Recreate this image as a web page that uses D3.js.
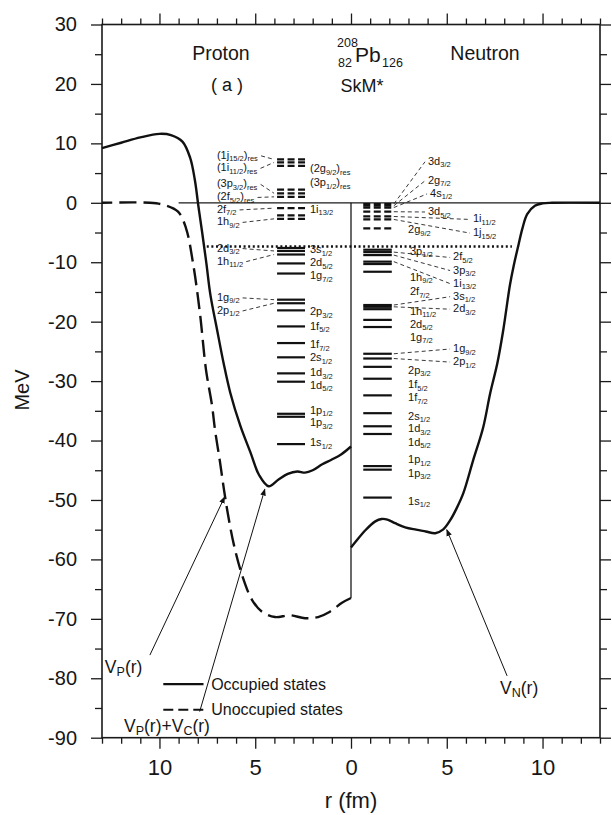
<!DOCTYPE html>
<html>
<head>
<meta charset="utf-8">
<script src="https://cdn.jsdelivr.net/npm/d3@7"></script>
<style>
  body { margin: 0; background: #fff; }
  svg text { font-family: "Liberation Sans", Arial, Helvetica, sans-serif; fill: #161616; }
</style>
</head>
<body>
<svg id="chart" width="612" height="815"></svg>
<script>
// ---- data ----
// mean fields: [r (fm, from the centre), V (MeV)]
var protonVC = [[0,-41.0],[0.5,-42.3],[1.0,-43.2],[1.5,-44.0],[2.0,-45.0],[2.4,-45.4],[2.8,-45.2],[3.3,-45.6],
  [3.8,-46.6],[4.3,-47.7],[4.8,-45.8],[5.25,-42.0],[5.78,-37.5],[6.3,-32.0],[6.65,-27.0],[6.99,-21.4],
  [7.34,-15.5],[7.55,-10.2],[7.77,-5.0],[7.97,-0.5],[8.15,3.8],[8.4,7.6],[8.8,10.3],[9.4,11.4],
  [10.0,11.6],[11.0,11.0],[12.0,10.1],[13.0,9.2]];
var protonV = [[0,-66.5],[0.47,-67.3],[1.1,-68.8],[1.72,-69.7],[2.4,-69.9],[3.19,-69.4],[3.97,-69.7],
  [4.65,-68.8],[5.17,-66.8],[5.69,-62.6],[6.11,-57.6],[6.42,-52.5],[6.63,-48.3],[6.84,-43.6],[7.1,-38.2],
  [7.26,-34.0],[7.57,-28.1],[7.89,-18.5],[8.25,-10.1],[8.62,-4.2],[9.03,-1.5],[9.71,-0.4],[10.5,0],[13.0,0]];
var neutronV = [[0,-58.0],[0.25,-57.0],[0.75,-55.1],[1.27,-53.6],[1.6,-53.2],[1.9,-53.3],[2.3,-53.9],
  [2.83,-54.6],[3.4,-55.0],[3.9,-55.3],[4.4,-55.6],[4.8,-55.0],[5.18,-53.4],[5.5,-51.5],[5.86,-48.9],
  [6.38,-43.3],[6.9,-37.8],[7.27,-32.0],[7.64,-27.0],[7.95,-21.4],[8.3,-13.8],[8.5,-10.5],[8.75,-7.0],
  [8.95,-4.3],[9.2,-1.9],[9.6,-0.5],[10.0,-0.1],[10.5,0],[13.0,0]];

// single particle levels: [state, E (MeV)]
var protonOccupied = [["1s1/2",-40.6],["1p3/2",-36.0],["1p1/2",-35.5],["1d5/2",-30.1],["1d3/2",-28.7],
  ["2s1/2",-26.0],["1f7/2",-23.6],["1f5/2",-20.8],["2p3/2",-18.1],["2p1/2",-16.9],["1g9/2",-16.3],
  ["1g7/2",-11.9],["2d5/2",-10.2],["1h11/2",-8.7],["2d3/2",-8.1],["3s1/2",-7.6]];
var protonUnoccupied = [["1h9/2",-2.7],["1i13/2",-2.1],["2f7/2",-0.9],["2f5/2",1.0],["3p3/2",1.6],
  ["3p1/2",2.2],["2g9/2",6.2],["1i11/2",6.8],["1j15/2",7.3]];
var neutronOccupied = [["1s1/2",-49.6],["1p3/2",-44.9],["1p1/2",-44.3],["1d5/2",-38.9],["1d3/2",-37.6],
  ["2s1/2",-35.4],["1f7/2",-32.4],["1f5/2",-29.6],["2p3/2",-27.6],["2p1/2",-26.2],["1g9/2",-25.4],
  ["1g7/2",-20.9],["2d5/2",-19.7],["1h11/2",-17.9],["2d3/2",-17.5],["3s1/2",-17.2],["1h9/2",-11.6],
  ["2f7/2",-10.3],["1i13/2",-9.9],["3p3/2",-8.8],["2f5/2",-8.3],["3p1/2",-7.9]];
var neutronUnoccupied = [["2g9/2",-4.3],["1j15/2",-2.8],["1i11/2",-2.3],["3d5/2",-1.5],["4s1/2",-0.8],
  ["2g7/2",-0.5],["3d3/2",-0.2]];
var fermiE = -7.35;

// axis ticks
var rTicks = d3.range(-13, 14);
var rMajor = [-10, -5, 0, 5, 10];
var eTicks = d3.range(-90, 31, 5);
var eMajor = d3.range(-90, 31, 10);

// ---- layout ----
// label anchors in plot units [signed r, E, leader line]
var protonLabelAt = {
  "1j15/2":[-7.0,7.9,1], "1i11/2":[-7.0,5.8,1], "3p3/2":[-7.0,3.1,1], "2f5/2":[-7.0,0.9,1],
  "2f7/2":[-7.0,-1.2,1], "1h9/2":[-7.0,-3.3,1], "2d3/2":[-7.0,-7.7,1], "1h11/2":[-7.0,-9.9,1],
  "1g9/2":[-7.0,-16.0,1], "2p1/2":[-7.0,-18.2,1],
  "2g9/2":[-2.14,5.64,0], "3p1/2":[-2.14,3.33,0], "1i13/2":[-2.14,-1.21,0], "3s1/2":[-2.14,-8.0,0],
  "2d5/2":[-2.14,-10.2,0], "1g7/2":[-2.14,-12.4,0], "2p3/2":[-2.14,-18.43,0], "1f5/2":[-2.14,-20.85,0],
  "1f7/2":[-2.14,-23.93,0], "2s1/2":[-2.14,-26.17,0], "1d3/2":[-2.14,-28.69,0], "1d5/2":[-2.14,-30.8,0],
  "1p1/2":[-2.14,-35.0,0], "1p3/2":[-2.14,-37.1,0], "1s1/2":[-2.14,-40.47,0]
};
var neutronLabelAt = {
  "3d3/2":[4.02,6.9,1], "2g7/2":[4.02,3.7,1], "4s1/2":[4.13,1.5,1], "3d5/2":[4.02,-1.55,1],
  "1i11/2":[6.37,-2.8,1], "1j15/2":[6.37,-5.1,1], "2g9/2":[2.98,-4.58,0], "3p1/2":[3.08,-8.23,0],
  "2f5/2":[5.33,-9.2,1], "3p3/2":[5.33,-11.4,1], "1h9/2":[3.08,-12.65,0], "1i13/2":[5.33,-13.6,1],
  "2f7/2":[3.08,-15.01,0], "3s1/2":[5.33,-15.8,1], "2d3/2":[5.33,-17.9,1], "1h11/2":[3.08,-18.37,0],
  "2d5/2":[3.08,-20.56,0], "1g7/2":[3.08,-22.7,0], "1g9/2":[5.33,-24.6,1], "2p1/2":[5.33,-26.8,1],
  "2p3/2":[2.98,-28.30,0], "1f5/2":[2.98,-30.66,0], "1f7/2":[2.98,-32.86,0], "2s1/2":[2.98,-35.99,0],
  "1d3/2":[2.98,-38.1,0], "1d5/2":[2.98,-40.4,0], "1p1/2":[2.98,-43.28,0], "1p3/2":[2.98,-45.63,0],
  "1s1/2":[2.98,-50.29,0]
};
var protonLevelSpan = [-3.86, -2.40];
var neutronLevelSpan = [0.64, 2.13];

var svg = d3.select('#chart');
var x = d3.scaleLinear().domain([-13, 13]).range([102, 600]);
var y = d3.scaleLinear().domain([-90, 30]).range([737.7, 24.5]);

// ---- axes (ticks point outwards on all four sides) ----
function ticks(gen, vals, size, fmt) {
  return function(g) {
    g.call(gen.tickValues(vals).tickSize(size).tickSizeOuter(0).tickFormat(fmt || ''));
    g.select('.domain').remove();
    g.selectAll('line').attr('stroke', '#1a1a1a').attr('stroke-width', 1.3);
    g.attr('font-family', null).attr('font-size', null);
  };
}
var minorR = rTicks.filter(function(d){ return rMajor.indexOf(d) < 0; });
var minorE = eTicks.filter(function(d){ return eMajor.indexOf(d) < 0; });
var fmtR = function(d){ return String(Math.abs(d)); };

var bottom = svg.append('g').attr('transform', 'translate(0,' + y(-90) + ')');
bottom.append('g').call(ticks(d3.axisBottom(x), minorR, 6));
bottom.append('g').call(ticks(d3.axisBottom(x).tickPadding(11), rMajor, 11, fmtR))
  .selectAll('text').attr('font-size', 22);
svg.append('g').attr('transform', 'translate(0,' + y(30) + ')').call(ticks(d3.axisTop(x), minorR, 6));
svg.append('g').attr('transform', 'translate(0,' + y(30) + ')').call(ticks(d3.axisTop(x), rMajor, 11));

var left = svg.append('g').attr('transform', 'translate(' + x(-13) + ',0)');
left.append('g').call(ticks(d3.axisLeft(y), minorE, 7));
left.append('g').call(ticks(d3.axisLeft(y).tickPadding(14), eMajor, 11, function(d){ return String(d); }))
  .selectAll('text').attr('font-size', 20);
svg.append('g').attr('transform', 'translate(' + x(13) + ',0)').call(ticks(d3.axisRight(y), minorE, 7));
svg.append('g').attr('transform', 'translate(' + x(13) + ',0)').call(ticks(d3.axisRight(y), eMajor, 11));

svg.append('rect').attr('x', x(-13)).attr('y', y(30))
  .attr('width', x(13) - x(-13)).attr('height', y(-90) - y(30))
  .attr('fill', 'none').attr('stroke', '#1a1a1a').attr('stroke-width', 1.6);

svg.append('text').attr('x', x(0)).attr('y', 808).attr('text-anchor', 'middle')
  .attr('font-size', 22).text('r (fm)');
svg.append('text').attr('transform', 'translate(29,390) rotate(-90)').attr('text-anchor', 'middle')
  .attr('font-size', 20).text('MeV');

// ---- reference lines ----
svg.append('line').attr('x1', x(-9.0)).attr('x2', x(13)).attr('y1', y(0)).attr('y2', y(0))
  .attr('stroke', '#1a1a1a').attr('stroke-width', 1.3);
svg.append('line').attr('x1', x(0)).attr('x2', x(0)).attr('y1', y(0)).attr('y2', y(protonV[0][1]))
  .attr('stroke', '#1a1a1a').attr('stroke-width', 1.3);
svg.append('line').attr('x1', x(-7.53)).attr('x2', x(8.4)).attr('y1', y(fermiE)).attr('y2', y(fermiE))
  .attr('stroke', '#111').attr('stroke-width', 2.4).attr('stroke-dasharray', '2,2.6');

// ---- potentials ----
var line = d3.line().curve(d3.curveCatmullRom.alpha(0.5));
function pot(data, sign, dash) {
  svg.append('path')
    .attr('d', line(data.map(function(p){ return [x(sign * p[0]), y(p[1])]; })))
    .attr('fill', 'none').attr('stroke', '#111').attr('stroke-width', 2.4)
    .attr('stroke-dasharray', dash || null);
}
pot(protonV, -1, '17,7');
pot(protonVC, -1);
pot(neutronV, 1);

// ---- levels and labels ----
function stateLabel(name, res, px, py) {
  var m = name.match(/^(\d[a-z])(.+)$/);
  var t = svg.append('text').attr('x', px).attr('y', py).attr('font-size', 11);
  if (res) t.append('tspan').text('(');
  t.append('tspan').text(m[1]);
  t.append('tspan').attr('dy', 2.5).attr('font-size', 7.5).text(m[2]);
  if (res) {
    t.append('tspan').attr('dy', -2.5).text(')');
    t.append('tspan').attr('dy', 2.5).attr('font-size', 7.5).text('res');
  }
  return t;
}
function leader(x1, y1, x2, y2) {
  svg.append('line').attr('x1', x1).attr('y1', y1).attr('x2', x2).attr('y2', y2)
    .attr('stroke', '#222').attr('stroke-width', 0.9).attr('stroke-dasharray', '4,3');
}
function levels(occ, unocc, span, labelAt, side) {
  var all = occ.map(function(d){ return [d[0], d[1], true]; })
    .concat(unocc.map(function(d){ return [d[0], d[1], false]; }));
  svg.append('g').selectAll('line').data(all).join('line')
    .attr('x1', x(span[0])).attr('x2', x(span[1]))
    .attr('y1', function(d){ return y(d[1]); }).attr('y2', function(d){ return y(d[1]); })
    .attr('stroke', '#111').attr('stroke-width', 2.2)
    .attr('stroke-dasharray', function(d){ return d[2] ? null : '7,3.5'; });
  all.forEach(function(d) {
    var pos = labelAt[d[0]];
    if (!pos) return;
    var res = d[1] > 0;
    var t = stateLabel(d[0], res, x(pos[0]), y(pos[1]) + 3);
    if (!pos[2]) return;
    if (side === 'left') {
      var b = t.node().getBBox();
      leader(b.x + b.width + 3, y(pos[1]), x(span[0]) - 3, y(d[1]));
    } else {
      leader(x(span[1]) + 2, y(d[1]), x(pos[0]) - 3, y(pos[1]));
    }
  });
}
levels(protonOccupied, protonUnoccupied, protonLevelSpan, protonLabelAt, 'left');
levels(neutronOccupied, neutronUnoccupied, neutronLevelSpan, neutronLabelAt, 'right');

// ---- titles ----
svg.append('text').attr('x', 221).attr('y', 60).attr('text-anchor', 'middle').attr('font-size', 19.5).text('Proton');
svg.append('text').attr('x', 227).attr('y', 91).attr('text-anchor', 'middle').attr('font-size', 18).text('( a )');
svg.append('text').attr('x', 485).attr('y', 60).attr('text-anchor', 'middle').attr('font-size', 19.5).text('Neutron');
svg.append('text').attr('x', 337).attr('y', 47).attr('font-size', 12.5).text('208');
svg.append('text').attr('x', 338).attr('y', 67).attr('font-size', 12.5).text('82');
svg.append('text').attr('x', 355).attr('y', 62).attr('font-size', 21).text('Pb');
svg.append('text').attr('x', 382).attr('y', 67).attr('font-size', 12.5).text('126');
svg.append('text').attr('x', 362).attr('y', 92).attr('text-anchor', 'middle').attr('font-size', 18).text('SkM*');

// ---- potential annotations ----
svg.append('defs').append('marker').attr('id', 'tip').attr('viewBox', '0 0 10 10')
  .attr('refX', 9).attr('refY', 5).attr('markerWidth', 7).attr('markerHeight', 7)
  .attr('markerUnits', 'userSpaceOnUse').attr('orient', 'auto')
  .append('path').attr('d', 'M0,1 L10,5 L0,9 Z').attr('fill', '#111');
var notes = [
  {v: 'P', extra: false, text: [-12.85, -79.1], from: [-10.5, -76.1], to: [-6.6, -49.5]},
  {v: 'P', extra: true,  text: [-11.85, -89.0], from: [-7.9, -85.6], to: [-4.5, -48.2]},
  {v: 'N', extra: false, text: [7.78, -82.6],   from: [8.15, -79.6], to: [5.0, -55.0]}
];
notes.forEach(function(n) {
  svg.append('line').attr('x1', x(n.from[0])).attr('y1', y(n.from[1]))
    .attr('x2', x(n.to[0])).attr('y2', y(n.to[1]))
    .attr('stroke', '#111').attr('stroke-width', 1).attr('marker-end', 'url(#tip)');
  var t = svg.append('text').attr('x', x(n.text[0])).attr('y', y(n.text[1])).attr('font-size', 17.5);
  t.append('tspan').text('V');
  t.append('tspan').attr('dy', 3.5).attr('font-size', 12.5).text(n.v);
  t.append('tspan').attr('dy', -3.5).text('(r)');
  if (n.extra) {
    t.append('tspan').text('+V');
    t.append('tspan').attr('dy', 3.5).attr('font-size', 12.5).text('C');
    t.append('tspan').attr('dy', -3.5).text('(r)');
  }
});

// ---- legend ----
var legend = [['Occupied states', null, -81.0], ['Unoccupied states', '10,5', -85.3]];
legend.forEach(function(l) {
  svg.append('line').attr('x1', x(-9.8)).attr('x2', x(-7.7)).attr('y1', y(l[2])).attr('y2', y(l[2]))
    .attr('stroke', '#111').attr('stroke-width', 2.2).attr('stroke-dasharray', l[1]);
  svg.append('text').attr('x', x(-7.3)).attr('y', y(l[2]) + 5.5).attr('font-size', 16).text(l[0]);
});
</script>
</body>
</html>
